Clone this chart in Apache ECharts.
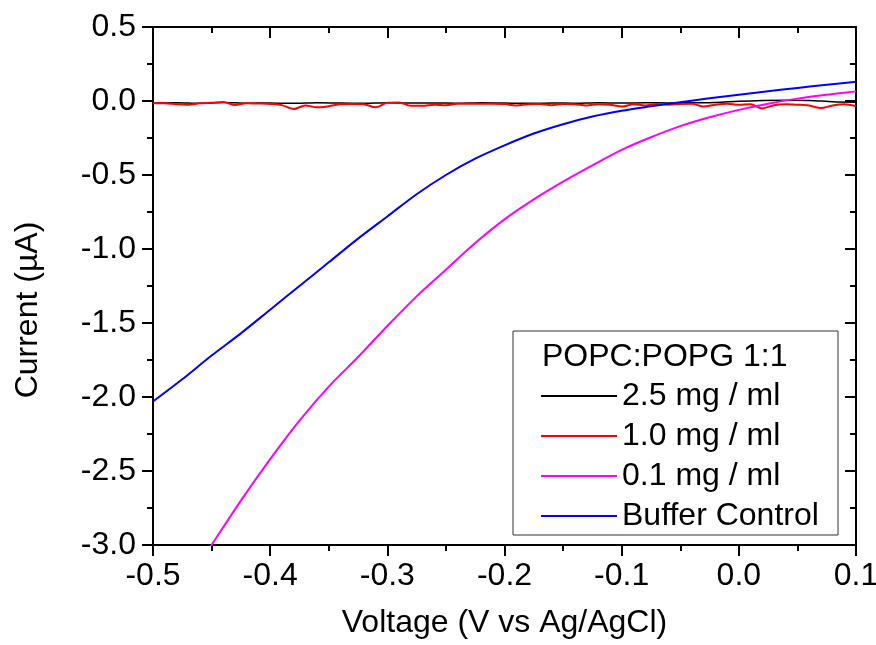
<!DOCTYPE html>
<html>
<head>
<meta charset="utf-8">
<script src="https://cdn.jsdelivr.net/npm/echarts@6/dist/echarts.min.js"></script>
<style>
  html, body { margin: 0; padding: 0; background: #fff; }
  #chart { width: 876px; height: 645px; }
</style>
</head>
<body>
<div id="chart"></div>
<script>
// voltages (V vs Ag/AgCl)
const voltsFine = [-0.50, -0.49, -0.48, -0.47, -0.46, -0.45, -0.44, -0.43, -0.42, -0.41,
  -0.40, -0.39, -0.38, -0.37, -0.36, -0.35, -0.34, -0.33, -0.32, -0.31,
  -0.30, -0.29, -0.28, -0.27, -0.26, -0.25, -0.24, -0.23, -0.22, -0.21,
  -0.20, -0.19, -0.18, -0.17, -0.16, -0.15, -0.14, -0.13, -0.12, -0.11,
  -0.10, -0.09, -0.08, -0.07, -0.06, -0.05, -0.04, -0.03, -0.02, -0.01,
  0.00, 0.01, 0.02, 0.03, 0.04, 0.05, 0.06, 0.07, 0.08, 0.09, 0.10]
const voltsStep2 = [-0.50, -0.48, -0.46, -0.44, -0.42, -0.40, -0.38, -0.36, -0.34, -0.32,
  -0.30, -0.28, -0.26, -0.24, -0.22, -0.20, -0.18, -0.16, -0.14, -0.12,
  -0.10, -0.08, -0.06, -0.04, -0.02, 0.00, 0.02, 0.04, 0.06, 0.08, 0.10]
const voltsBuffer = [-0.500, -0.475, -0.450, -0.425, -0.400, -0.375, -0.350, -0.325, -0.300,
  -0.275, -0.250, -0.225, -0.200, -0.175, -0.150, -0.125, -0.100, -0.075, -0.050,
  -0.025, 0.000, 0.025, 0.050, 0.075, 0.100]
const voltsLow = [-0.460, -0.450, -0.425, -0.400, -0.375, -0.350, -0.325, -0.300,
  -0.275, -0.250, -0.225, -0.200, -0.175, -0.150, -0.125, -0.100, -0.075, -0.050,
  -0.025, 0.000, 0.025, 0.050, 0.075, 0.100]

// currents (uA)
const current25 = [-0.015, -0.012, -0.016, -0.010, -0.015, -0.013, -0.016, -0.012, -0.014, -0.015,
  -0.012, -0.014, -0.013, -0.015, -0.012, -0.014, -0.016, -0.013, -0.015, -0.012,
  -0.014, -0.012, -0.013, -0.012, -0.010, -0.002, 0.003, 0.005, 0.004, -0.005, -0.008]
const current10 = [-0.015, -0.015, -0.022, -0.025, -0.015, -0.012, -0.007, -0.027, -0.015, -0.017,
  -0.020, -0.028, -0.054, -0.030, -0.043, -0.035, -0.022, -0.020, -0.022, -0.043,
  -0.012, -0.010, -0.032, -0.032, -0.025, -0.028, -0.018, -0.018, -0.018, -0.018,
  -0.020, -0.030, -0.022, -0.020, -0.028, -0.020, -0.022, -0.030, -0.022, -0.025,
  -0.038, -0.022, -0.030, -0.020, -0.025, -0.020, -0.018, -0.038, -0.025, -0.018,
  -0.025, -0.022, -0.050, -0.028, -0.022, -0.025, -0.030, -0.048, -0.030, -0.022, -0.035]
const current01 = [-3.12, -3.00, -2.70, -2.42, -2.16, -1.93, -1.73, -1.52,
  -1.32, -1.14, -0.96, -0.80, -0.665, -0.545, -0.435, -0.33, -0.245, -0.17,
  -0.11, -0.06, -0.018, 0.016, 0.042, 0.065]
const currentBuffer = [-2.03, -1.88, -1.72, -1.57, -1.41, -1.25, -1.09, -0.93, -0.78,
  -0.63, -0.50, -0.39, -0.30, -0.22, -0.157, -0.105, -0.066, -0.036, -0.008,
  0.018, 0.043, 0.066, 0.088, 0.11, 0.13]

const seriesNames = ['2.5 mg / ml', '1.0 mg / ml', '0.1 mg / ml', 'Buffer Control']
const seriesColors = ['#000000', '#ff0000', '#ff00ff', '#0000ff']

const xTicks = { min: -0.5, max: 0.1, interval: 0.1 }
const yTicks = { min: -3.0, max: 0.5, interval: 0.5 }

const pair = (xs, ys) => xs.map((x, i) => [x, ys[i]])

const font = 'Liberation Sans, Arial, sans-serif'
const fontSize = 32
const axisLine = { show: true, onZero: false, lineStyle: { color: '#000', width: 2 } }

function makeAxis(pos, ticks, inside, showLabel){
  return {
    type: 'value',
    position: pos,
    min: ticks.min,
    max: ticks.max,
    interval: ticks.interval,
    axisLine: axisLine,
    axisTick: { show: true, inside: inside, length: 11, lineStyle: { color: '#000', width: 2 } },
    minorTick: { show: true, splitNumber: 2, length: 6, lineStyle: { color: '#000', width: 2 } },
    splitLine: { show: false },
    minorSplitLine: { show: false },
    axisLabel: {
      show: showLabel,
      color: '#000',
      fontSize: fontSize,
      fontFamily: font,
      formatter: (v) => v.toFixed(1)
    }
  }
}

const chartInstance = echarts.init(document.getElementById('chart'), null, { renderer: 'canvas' })

const xBottom = makeAxis('bottom', xTicks, false, true)
xBottom.axisLabel.margin = 15
xBottom.name = 'Voltage (V vs Ag/AgCl)'
xBottom.nameLocation = 'middle'
xBottom.nameGap = 62
xBottom.nameTextStyle = { color: '#000', fontSize: fontSize, fontFamily: font }

const yLeft = makeAxis('left', yTicks, false, true)
yLeft.axisLabel.margin = 17

const initOption = {
  animation: false,
  backgroundColor: '#fff',
  grid: { left: 153, right: 20, top: 27, bottom: 100, containLabel: false, outerBoundsMode: 'none' },
  xAxis: [xBottom, makeAxis('top', xTicks, true, false)],
  yAxis: [yLeft, makeAxis('right', yTicks, true, false)],
  legend: {
    orient: 'vertical',
    left: 541,
    top: 380,
    padding: 0,
    itemGap: 8,
    itemWidth: 76,
    itemHeight: 2,
    icon: 'rect',
    data: seriesNames,
    textStyle: { color: '#000', fontSize: fontSize, lineHeight: 32, fontFamily: font }
  },
  graphic: [
    {
      type: 'rect',
      shape: { x: 513, y: 331, width: 325, height: 204 },
      style: { fill: 'rgba(0,0,0,0)', stroke: '#333', lineWidth: 1 },
      z: 5
    },
    {
      type: 'text',
      left: 542,
      top: 341,
      style: { text: 'POPC:POPG 1:1', fill: '#000', font: fontSize + 'px ' + font },
      z: 5
    },
    {
      type: 'text',
      x: 28,
      y: 310,
      rotation: Math.PI / 2,
      style: {
        text: 'Current (µA)',
        fill: '#000',
        font: fontSize + 'px ' + font,
        align: 'center',
        verticalAlign: 'middle'
      }
    }
  ],
  series: [
    { data: pair(voltsStep2, current25), lineWidth: 1.5 },
    { data: pair(voltsFine, current10), lineWidth: 2 },
    { data: pair(voltsLow, current01), lineWidth: 2 },
    { data: pair(voltsBuffer, currentBuffer), lineWidth: 2 }
  ].map((s, i) => ({
    name: seriesNames[i],
    type: 'line',
    data: s.data,
    symbol: 'none',
    smooth: 0.3,
    clip: true,
    lineStyle: { color: seriesColors[i], width: s.lineWidth },
    itemStyle: { color: seriesColors[i] }
  }))
}
chartInstance.setOption(initOption)
</script>
</body>
</html>
